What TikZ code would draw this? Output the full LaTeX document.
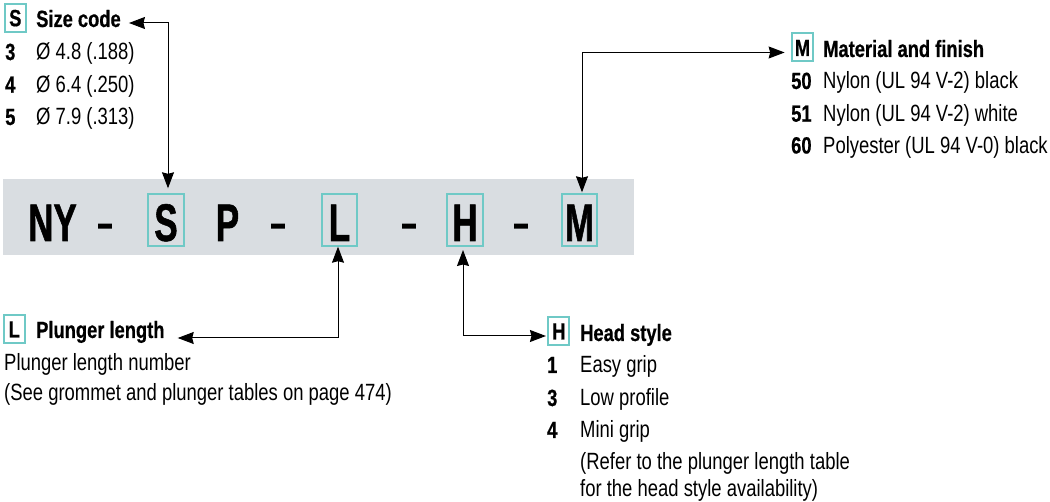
\documentclass[tikz,border=0pt]{standalone}
\usepackage{fontspec}
\setmainfont[FakeStretch=0.785]{Liberation Sans}
\newfontfamily\bfam[FakeStretch=0.78,FakeBold=0.6]{Liberation Sans}
\newfontfamily\bigfam[FakeStretch=0.66,FakeBold=1]{Liberation Sans}
\newfontfamily\dashfam[FakeStretch=0.68,FakeBold=3]{Liberation Sans}
\usetikzlibrary{arrows.meta}
\definecolor{teal1}{HTML}{6FC9C6}
\definecolor{band}{HTML}{D9DDE1}
\tikzset{
  txt/.style={anchor=base west,inner sep=0pt,font=\fontsize{23.5}{26}\selectfont},
  num/.style={anchor=base west,inner sep=0pt,font=\fontsize{23.5}{26}\bfam\bfseries},
  ttl/.style={anchor=base west,inner sep=0pt,font=\fontsize{23.5}{26}\bfam\bfseries,text height=12pt,text depth=4pt},
  bigl/.style={inner sep=0pt,font=\fontsize{53}{60}\bigfam\bfseries,anchor=base},
  bigd/.style={inner sep=0pt,font=\fontsize{38}{50}\dashfam\bfseries,anchor=base},
  bigbox/.style={draw=teal1,line width=2pt,minimum width=35.7pt,minimum height=51.4pt,inner sep=0pt,anchor=center},
  smallbox/.style={draw=teal1,line width=2pt,minimum width=20.7pt,minimum height=28pt,inner sep=0pt,anchor=center,font=\fontsize{23.5}{26}\bfam\bfseries,text height=17pt,text depth=0pt},
  conn/.style={line width=1pt,{Stealth[length=16pt,width=12pt,inset=1.5pt]}-{Stealth[length=16pt,width=12pt,inset=1.5pt]}}
}
\begin{document}
\begin{tikzpicture}[x=1pt,y=-1pt]
\useasboundingbox (0,0) rectangle (1050,502);
\fill[band] (3,179) rectangle (634,255);
% big row
\node[bigbox] (bS) at (166.2,220) {};
\node[bigbox] (bL) at (339.5,220) {};
\node[bigbox] (bH) at (465,220) {};
\node[bigbox] (bM) at (579.5,220) {};
\node[bigl] (tNY) at (52.5,241) {NY};
\node[bigl] (tS) at (166,241) {S};
\node[bigl] (tP) at (227.5,241) {P};
\node[bigl] (tL) at (339.5,241) {L};
\node[bigl] (tH) at (465,241) {H};
\node[bigl] (tM) at (579.5,241) {M};
\node[bigd] (d1) at (105,236.3) {–};
\node[bigd] (d2) at (278,236.3) {–};
\node[bigd] (d3) at (409,236.3) {–};
\node[bigd] (d4) at (521,236.3) {–};
% S block
\node[smallbox] (sS) at (15.3,17.7) {S};
\node[ttl] (sT) at (36,27) {Size code};
\node[num] (s3) at (5,60) {3};
\node[txt] (s3t) at (36,60) {Ø 4.8 (.188)};
\node[num] (s4) at (5,92.7) {4};
\node[txt] (s4t) at (36,92.7) {Ø 6.4 (.250)};
\node[num] (s5) at (5,125) {5};
\node[txt] (s5t) at (36,125) {Ø 7.9 (.313)};
% M block
\node[smallbox] (sM) at (802.5,47.5) {M};
\node[ttl] (mT) at (823,57) {Material and finish};
\node[num] (m1) at (791,89) {50};
\node[txt] (m1t) at (823,89) {Nylon (UL 94 V-2) black};
\node[num] (m2) at (791,121.7) {51};
\node[txt] (m2t) at (823,121.7) {Nylon (UL 94 V-2) white};
\node[num] (m3) at (791,153.5) {60};
\node[txt] (m3t) at (823,153.5) {Polyester (UL 94 V-0) black};
% L block
\node[smallbox] (sL) at (14.3,329) {L};
\node[ttl] (lT) at (36,338) {Plunger length};
\node[txt] (l1) at (4,371) {Plunger length number};
\node[txt] (l2) at (4,401) {(See grommet and plunger tables on page 474)};
% H block
\node[smallbox] (sH) at (558.8,331) {H};
\node[ttl] (hT) at (580,341) {Head style};
\node[num] (h1) at (547,373) {1};
\node[txt] (h1t) at (580,373) {Easy grip};
\node[num] (h3) at (547,406) {3};
\node[txt] (h3t) at (580,406) {Low profile};
\node[num] (h4) at (547,438) {4};
\node[txt] (h4t) at (580,438) {Mini grip};
\node[txt] (h5) at (580,470) {(Refer to the plunger length table};
\node[txt] (h6) at (580,496.5) {for the head style availability)};
% connectors
\draw[conn] ([xshift=8pt]sT.east) -| ([xshift=1.8pt,yshift=5pt]bS.north);
\draw[conn] ([xshift=13pt,yshift=-4pt]lT.east) -| ([xshift=-1.5pt]bL.south);
\draw[conn] ([xshift=-2pt,yshift=-3.3pt]bH.south) |- ([xshift=-1.5pt,yshift=-5pt]sH.west);
\draw[conn] ([xshift=2.5pt,yshift=1pt]bM.north) |- ([xshift=-6.5pt,yshift=-5pt]sM.west);
\end{tikzpicture}
\end{document}
